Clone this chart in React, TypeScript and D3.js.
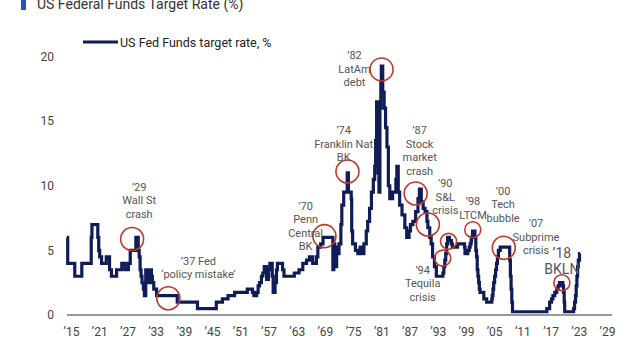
import React, { useEffect, useRef } from "react";
import * as d3 from "d3";

const WIDTH = 640;
const HEIGHT = 354;

// [year, target rate %] at each change, drawn as steps
const ratesEarly: [number, number][] = [
  [1914.15, 6], [1914.3, 4], [1915.8, 3], [1917.3, 4], [1919.3, 6], [1919.45, 7],
  [1920.7, 6], [1920.9, 5], [1921.1, 4.5], [1921.5, 4], [1922.5, 4.5], [1923.2, 3.5],
  [1923.6, 3], [1924.7, 3.5], [1925.8, 4], [1926.5, 3.5], [1927.2, 4], [1927.6, 5],
  [1928.8, 6], [1929.3, 5], [1929.5, 4.5], [1929.7, 3.5], [1929.9, 3], [1930.1, 2.5],
  [1930.4, 2], [1930.6, 1.5], [1930.9, 3.5], [1931.3, 3], [1931.5, 2.5], [1931.7, 3.5],
  [1932.1, 3], [1932.3, 2.5], [1932.6, 2], [1933.2, 1.5], [1937.6, 1], [1941.9, 0.5],
  [1945.9, 1],
];

const ratesMid: [number, number][] = [
  [1947.2, 1.25], [1948.4, 1.5], [1949.8, 1.75], [1952.5, 2], [1953.6, 1.75], [1953.9, 1.5],
  [1954.5, 1.75], [1954.8, 2.25], [1955.1, 2.5], [1955.5, 3], [1955.8, 3.25], [1956.1, 3.75],
  [1956.6, 2.75], [1957.0, 3.5], [1957.3, 4], [1957.8, 3], [1958.0, 1.75], [1958.4, 2.5],
  [1958.7, 3.5], [1958.9, 4], [1960.0, 3.5], [1960.3, 3], [1962.5, 3.25], [1963.5, 3.5],
  [1964.3, 4], [1965.1, 4.25], [1965.7, 4.5], [1966.4, 4], [1967.2, 4.5], [1967.5, 5.25],
  [1968.1, 5.5], [1968.6, 6], [1970.7, 3.5], [1970.9, 5.5], [1971.1, 4.5], [1971.3, 3.75],
  [1971.5, 5.25], [1971.8, 4.75], [1972.0, 5.5], [1972.4, 7], [1972.6, 8.5], [1973.0, 9.5],
  [1973.75, 11], [1974.0, 9.5], [1974.6, 9], [1974.7, 6.5], [1974.9, 5.5], [1975.5, 5],
  [1976.0, 4.75], [1976.5, 5.25], [1976.8, 4.75], [1977.3, 5.5], [1977.8, 6.5], [1978.1, 7.25],
  [1978.5, 8.25], [1978.9, 9.5], [1979.3, 10.5], [1979.6, 11.5], [1979.8, 13.5], [1980.0, 16.5],
  [1980.3, 11], [1980.5, 9.5], [1980.7, 16], [1980.9, 18], [1981.0, 19.25], [1981.3, 17.25],
  [1981.6, 16], [1981.9, 14.5], [1982.2, 13], [1982.5, 10], [1982.8, 9], [1983.4, 9.5],
  [1984.1, 10.5], [1984.3, 11.5], [1984.6, 9.5], [1984.9, 8.5], [1985.4, 7.75], [1986.0, 6.75],
  [1986.4, 6], [1986.9, 6.5], [1987.2, 7], [1987.7, 7.25], [1988.3, 8], [1988.8, 9],
  [1989.1, 9.75], [1989.5, 8.75], [1989.9, 8.25], [1990.3, 8], [1990.7, 7.25], [1990.9, 6.75],
  [1991.3, 6], [1991.6, 5.5], [1991.9, 4.5], [1992.3, 3.75], [1992.7, 3],
];

const ratesLate: [number, number][] = [
  [1994.1, 3.25], [1994.3, 3.75], [1994.5, 4.25], [1994.7, 4.75], [1994.9, 5.5], [1995.1, 6],
  [1995.5, 5.75], [1995.9, 5.5], [1996.1, 5.25], [1997.2, 5.5], [1998.7, 5.25], [1998.8, 4.75],
  [1999.4, 5], [1999.7, 5.25], [1999.9, 5.5], [2000.1, 5.75], [2000.2, 6], [2000.4, 6.5],
  [2000.9, 6], [2001.1, 5], [2001.25, 4.5], [2001.4, 3.5], [2001.55, 3], [2001.7, 2.5],
  [2001.85, 2], [2002.0, 1.75], [2002.8, 1.25], [2003.4, 1], [2004.5, 1.25], [2004.6, 1.5],
  [2004.75, 2], [2004.9, 2.5], [2005.1, 3], [2005.3, 3.5], [2005.5, 4], [2005.7, 4.5],
  [2005.9, 5], [2006.3, 5.25], [2008.3, 4.25], [2008.45, 3], [2008.6, 2], [2008.75, 1],
  [2008.9, 0.25], [2016.2, 0.5], [2016.8, 1], [2017.2, 1.25], [2017.5, 1.5], [2017.9, 1.75],
  [2018.3, 2], [2018.6, 2.25], [2018.9, 2.5], [2019.6, 2.25], [2019.75, 1.75], [2019.9, 1],
  [2020.0, 0.25], [2021.9, 0.5], [2022.1, 1], [2022.3, 1.5], [2022.45, 2.25], [2022.6, 3],
  [2022.75, 3.75], [2022.9, 4.25], [2023.15, 4.75], [2023.3, 4.75],
];

const xTicks = d3.range(1915, 2030, 6);
const yTicks = [0, 5, 10, 15, 20];
const axisExtent = [1914.15, 2030.05];

// highlighted episodes: [year, rate, big circle?]
const eventCircles: [number, number, boolean][] = [
  [1928.0, 5.88, true], [1935.7, 1.3, true], [1968.9, 6.1, true], [1973.8, 11.1, true],
  [1981.05, 19.0, true], [1988.3, 9.4, true], [1990.9, 7.0, true], [1995.3, 5.7, false],
  [1994.05, 4.4, false], [2000.45, 6.6, false], [2007.05, 5.2, true], [2019.4, 2.5, false],
];

// label anchor (year, rate) = centre of first line
const eventLabels: { year: number; rate: number; lines: string[]; large?: boolean }[] = [
  { year: 1929.5, rate: 9.9, lines: ["’29", "Wall St", "crash"] },
  { year: 1942.1, rate: 4.18, lines: ["’37 Fed", "‘policy mistake’"] },
  { year: 1964.9, rate: 8.43, lines: ["’70", "Penn", "Central", "BK"] },
  { year: 1973.0, rate: 14.3, lines: ["’74", "Franklin Nat", "BK"] },
  { year: 1975.3, rate: 20.1, lines: ["’82", "LatAm", "debt"] },
  { year: 1989.15, rate: 14.3, lines: ["’87", "Stock", "market", "crash"] },
  { year: 1994.6, rate: 10.2, lines: ["’90", "S&L", "crisis"] },
  { year: 2000.5, rate: 8.8, lines: ["’98", "LTCM"] },
  { year: 2006.9, rate: 9.6, lines: ["’00", "Tech", "bubble"] },
  { year: 2013.9, rate: 7.1, lines: ["’07", "Subprime", "crisis"] },
  { year: 2019.4, rate: 4.8, lines: ["’18", "BKLN"], large: true },
  { year: 1989.8, rate: 3.5, lines: ["’94", "Tequila", "crisis"] },
];

const NAVY = "#101c55";
const RED = "#c0392b";
const FONT = "Roboto, 'Liberation Sans', sans-serif";

const App = () => {
  const svgRef = useRef<SVGSVGElement>(null);

  useEffect(() => {
    const svg = d3.select(svgRef.current);
    svg.selectAll("*").remove();

    const x = d3.scaleLinear().domain([1915, 2029]).range([71, 607]);
    const y = d3.scaleLinear().domain([0, 20]).range([315, 56.5]);

    // title (cropped at the top, as in the source)
    svg.append("rect").attr("x", 21).attr("y", 0).attr("width", 5).attr("height", 10).attr("fill", "#1d55c4");
    svg
      .append("text")
      .attr("x", 37)
      .attr("y", 9)
      .attr("font-family", FONT)
      .attr("font-size", 14)
      .attr("fill", "#333")
      .text("US Federal Funds Target Rate (%)");

    // legend
    svg.append("line").attr("x1", 83).attr("x2", 118).attr("y1", 42).attr("y2", 42)
      .attr("stroke", NAVY).attr("stroke-width", 3);
    svg
      .append("text")
      .attr("x", 120)
      .attr("y", 46.5)
      .attr("font-family", FONT)
      .attr("font-size", 12.5)
      .attr("fill", "#222")
      .text("US Fed Funds target rate, %");

    // y labels
    const yAxis = svg
      .append("g")
      .attr("transform", "translate(60,0)")
      .call(d3.axisLeft(y).tickValues(yTicks).tickSize(0).tickPadding(6));
    yAxis.select(".domain").remove();
    yAxis.selectAll("text").attr("font-family", FONT).attr("font-size", 12).attr("fill", "#444");

    // x axis
    const xAxis = svg
      .append("g")
      .attr("transform", `translate(0,${y(0)})`)
      .call(
        d3.axisBottom(x).tickValues(xTicks).tickSize(0).tickPadding(12)
          .tickFormat((d) => "’" + String(d).slice(2))
      );
    xAxis.select(".domain").remove();
    xAxis.selectAll("text").attr("font-family", FONT).attr("font-size", 12).attr("fill", "#444");
    svg
      .append("line")
      .attr("x1", x(axisExtent[0]))
      .attr("x2", x(axisExtent[1]))
      .attr("y1", y(0))
      .attr("y2", y(0))
      .attr("stroke", "#333")
      .attr("stroke-width", 1.2);

    // rate line
    const rates = [...ratesEarly, ...ratesMid, ...ratesLate];
    const line = d3
      .line<[number, number]>()
      .x((d) => x(d[0]))
      .y((d) => y(d[1]))
      .curve(d3.curveStepAfter);
    svg
      .append("path")
      .datum(rates)
      .attr("d", line)
      .attr("fill", "none")
      .attr("stroke", NAVY)
      .attr("stroke-width", 3.2)
      .attr("stroke-linejoin", "miter");

    // circles
    svg
      .selectAll("circle.ev")
      .data(eventCircles)
      .join("circle")
      .attr("class", "ev")
      .attr("cx", (d) => x(d[0]))
      .attr("cy", (d) => y(d[1]))
      .attr("r", (d) => (d[2] ? 11.5 : 8))
      .attr("fill", "none")
      .attr("stroke", RED)
      .attr("stroke-width", 1.6);

    // labels
    const labels = svg
      .selectAll("text.lab")
      .data(eventLabels)
      .join("text")
      .attr("class", "lab")
      .attr("text-anchor", "middle")
      .attr("font-family", FONT)
      .attr("font-size", (d) => (d.large ? 14 : 11))
      .attr("fill", "#555");
    labels
      .selectAll("tspan")
      .data((d) => d.lines.map((t, i) => ({ t, i, d })))
      .join("tspan")
      .attr("x", (e) => x(e.d.year))
      .attr("y", (e) => y(e.d.rate) + e.i * (e.d.large ? 16 : 13.5))
      .attr("dy", "0.35em")
      .text((e) => e.t);
  }, []);

  return (
    <svg
      ref={svgRef}
      width={WIDTH}
      height={HEIGHT}
      style={{ position: "fixed", left: 0, top: 0, background: "#fff" }}
    />
  );
};

export default App;
